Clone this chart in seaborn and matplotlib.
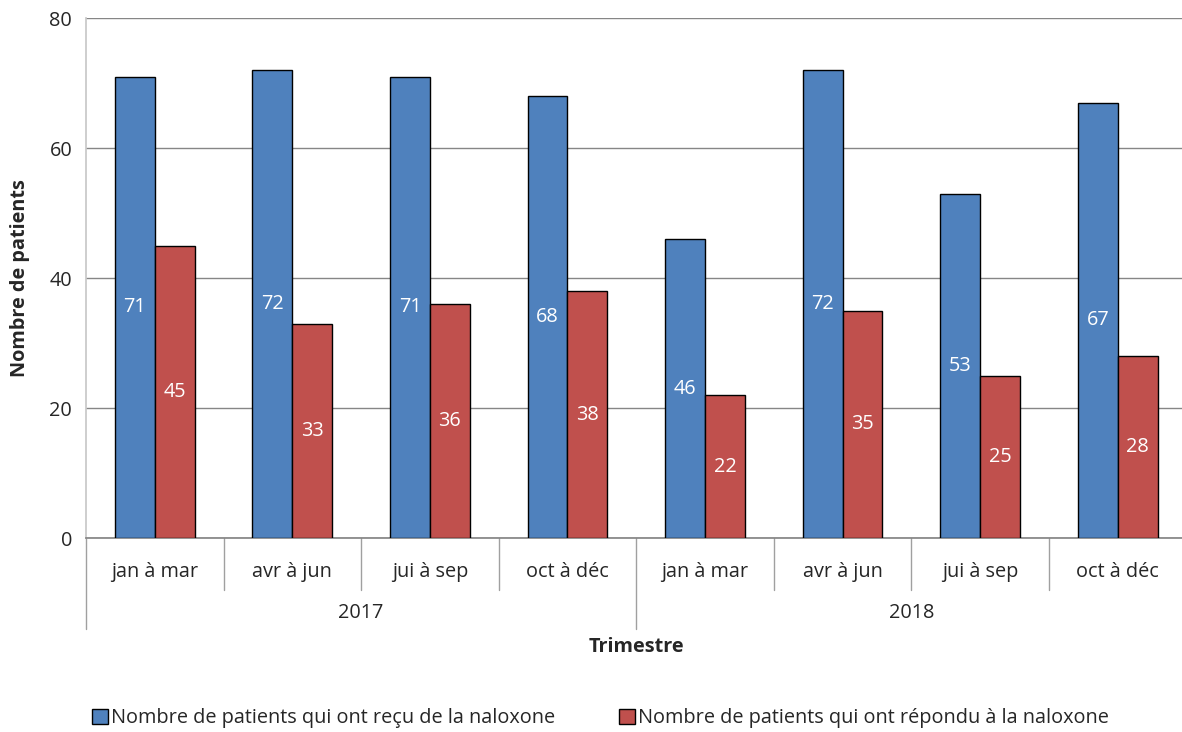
import pandas as pd
import matplotlib.pyplot as plt
import seaborn as sns
from matplotlib.transforms import blended_transform_factory

###1: data
quarters = ["jan à mar", "avr à jun", "jui à sep", "oct à déc",
            "jan à mar", "avr à jun", "jui à sep", "oct à déc"]
years = ["2017", "2018"]
recu = [71, 72, 71, 68, 46, 72, 53, 67]
repondu = [45, 33, 36, 38, 22, 35, 25, 28]
series = ["Nombre de patients qui ont reçu de la naloxone",
          "Nombre de patients qui ont répondu à la naloxone"]
colors = ["#4F81BD", "#C0504D"]

df = pd.DataFrame({
    "pos": list(range(8)) * 2,
    "value": recu + repondu,
    "serie": [series[0]] * 8 + [series[1]] * 8,
})

###2: plot
sns.set_theme(style="white")
plt.rcParams["font.family"] = ["Open Sans", "DejaVu Sans"]
fs = 14.3

fig = plt.figure(figsize=(11.82, 7.32), dpi=100)
ax = fig.add_axes([0.0728, 0.265, 0.931, 0.71])

sns.barplot(data=df, x="pos", y="value", hue="serie", palette=colors,
            width=0.58, edgecolor="black", linewidth=1, saturation=1,
            ax=ax, zorder=3)

ax.set_ylim(0, 80)
ax.set_xlim(-0.5, 7.5)
ax.set_yticks([0, 20, 40, 60, 80])
ax.tick_params(axis="y", labelsize=fs, length=6, color="#a0a0a0", pad=4)
ax.yaxis.grid(True, color="#868686", linewidth=1)
ax.set_axisbelow(True)
for s in ["top", "right"]:
    ax.spines[s].set_visible(False)
ax.spines["left"].set_color("#c8c8c8")
ax.spines["bottom"].set_color("#868686")

# value labels in the middle of the bars
for cont in ax.containers:
    for bar in cont:
        h = bar.get_height()
        ax.text(bar.get_x() + bar.get_width() / 2, h / 2, f"{h:.0f}",
                ha="center", va="center", color="white", fontsize=fs)

# multi-level category axis
ax.set_xticks([])
ax.set_xlabel("")
tr = blended_transform_factory(ax.transData, ax.transAxes)
for i, q in enumerate(quarters):
    ax.text(i, -0.065, q, transform=tr, ha="center", va="center", fontsize=fs)
for k in range(9):
    low = -0.175 if k % 4 == 0 else -0.10
    ax.plot([k - 0.5, k - 0.5], [0, low], transform=tr, color="#a0a0a0",
            linewidth=1, clip_on=False)
for j, y in enumerate(years):
    ax.text(1.5 + 4 * j, -0.145, y, transform=tr, ha="center", va="center",
            fontsize=fs)

ax.text(0.5, -0.21, "Trimestre", transform=ax.transAxes, ha="center",
        va="center", fontsize=fs, fontweight="bold")
ax.set_ylabel("Nombre de patients", fontsize=fs, fontweight="bold", labelpad=14)

ax.legend_.remove()
handles, labels = ax.get_legend_handles_labels()
fig.legend(handles, labels, loc="center", bbox_to_anchor=(0.508, 0.019),
           ncol=2, frameon=False, fontsize=fs, handlelength=0.8,
           handleheight=0.8, handletextpad=0.15, columnspacing=3.2)

fig.savefig("out.png", dpi=100)
